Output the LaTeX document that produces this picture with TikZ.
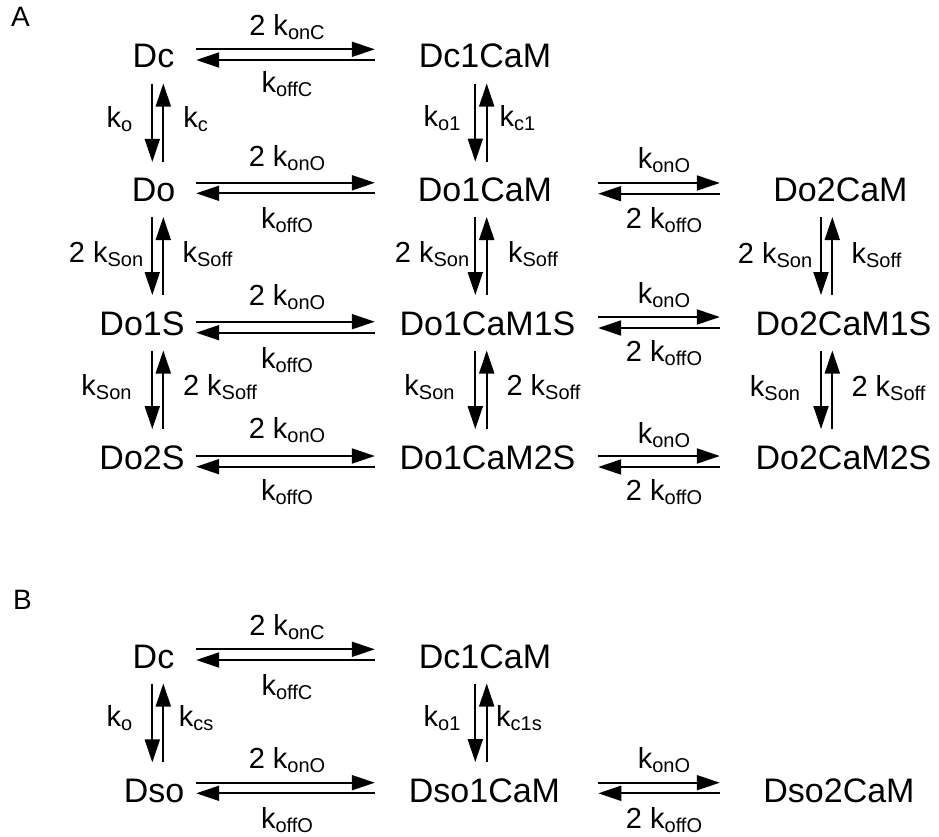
\documentclass[tikz,border=0pt]{standalone}
\usepackage{fontspec}
\setmainfont{Liberation Sans}
\usetikzlibrary{arrows.meta}
\newcommand\ksub[1]{\raisebox{-4pt}{\fontsize{20}{22}\selectfont #1}}
\newcommand\rk[2]{#1k\ksub{#2}}
\tikzset{
  species/.style={inner sep=0pt, anchor=base, font=\fontsize{34}{40}\selectfont},
  ratelbl/.style={inner sep=0pt, anchor=base, font=\fontsize{29}{34}\selectfont},
  panel/.style={inner sep=0pt, anchor=base west, font=\fontsize{28}{32}\selectfont},
  rx/.style={line width=1.9pt, -{Triangle[length=23pt,width=15pt]}}
}
% horizontal pair: A, B, y forward, y back, gap at A, gap at B
\newcommand\hrx[6]{%
  \draw[rx, shorten <=#5pt, shorten >=#6pt] (#1.east |- 0,#3) -- (#2.west |- 0,#3);
  \draw[rx, shorten <=#6pt, shorten >=#5pt] (#2.west |- 0,#4) -- (#1.east |- 0,#4);}
% vertical pair: upper, lower, x down, x up
\newcommand\vrx[4]{%
  \draw[rx, shorten <=15pt, shorten >=16pt] (#1.south -| #3,0) -- (#2.north -| #3,0);
  \draw[rx, shorten <=16pt, shorten >=15pt] (#2.north -| #4,0) -- (#1.south -| #4,0);}
\begin{document}
\begin{tikzpicture}[x=1pt,y=1pt]
\useasboundingbox (0,0) rectangle (939,-837);
% panel labels
\node[panel] (pA) at (11,-27) {A};
\node[panel] (pB) at (13,-609) {B};
% ---------- Panel A species ----------
\node[species] (dc)   at (153.5,-68)  {Dc};
\node[species] (dc1)  at (485,-68)    {Dc1CaM};
\node[species] (do)   at (153.5,-201.5) {Do};
\node[species] (do1)  at (485,-201.5) {Do1CaM};
\node[species] (do2)  at (840.5,-201.5) {Do2CaM};
\node[species] (do1s) at (142,-335)   {Do1S};
\node[species] (do1s1) at (487.5,-335) {Do1CaM1S};
\node[species] (do2s1) at (843.5,-335) {Do2CaM1S};
\node[species] (do2s) at (142,-469)   {Do2S};
\node[species] (do1s2) at (487.5,-469) {Do1CaM2S};
\node[species] (do2s2) at (843.5,-469) {Do2CaM2S};
% ---------- Panel B species ----------
\node[species] (bdc)   at (153.5,-668) {Dc};
\node[species] (bdc1)  at (485,-668)   {Dc1CaM};
\node[species] (bdso)  at (154,-802)   {Dso};
\node[species] (bdso1) at (484.5,-802) {Dso1CaM};
\node[species] (bdso2) at (839,-802)   {Dso2CaM};
% ---------- horizontal arrows ----------
\hrx{dc}{dc1}{-49.3}{-60}{21.7}{43.9}
\hrx{do}{do1}{-182.8}{-193.3}{20.8}{42.9}
\hrx{do1}{do2}{-183}{-193.7}{45.9}{53.4}
\hrx{do1s}{do1s1}{-321.7}{-332.7}{11.5}{24.6}
\hrx{do1s1}{do2s1}{-317}{-328}{22.6}{35.6}
\hrx{do2s}{do1s2}{-456}{-466.7}{11.5}{24.6}
\hrx{do1s2}{do2s2}{-456}{-467}{22.6}{35.6}
\hrx{bdc}{bdc1}{-649.3}{-660}{21.7}{43.9}
\hrx{bdso}{bdso1}{-782.7}{-793.3}{11.8}{33.9}
\hrx{bdso1}{bdso2}{-782.7}{-793.3}{38}{43.4}
% ---------- vertical arrows ----------
\vrx{dc}{do}{152.3}{163.3}
\vrx{do}{do1s}{152.3}{163.3}
\vrx{do1s}{do2s}{152.3}{163.3}
\vrx{dc1}{do1}{475.3}{486.7}
\vrx{do1}{do1s1}{475.3}{486.7}
\vrx{do1s1}{do1s2}{475.3}{486.7}
\vrx{do2}{do2s1}{821}{832.3}
\vrx{do2s1}{do2s2}{821}{832.3}
\vrx{bdc}{bdso}{152.3}{163.3}
\vrx{bdc1}{bdso1}{475.3}{486.7}
% ---------- horizontal rate labels ----------
\node[ratelbl] (l1) at (287,-36)    {\rk{2 }{onC}};
\node[ratelbl] (l2) at (287,-93)    {\rk{}{offC}};
\node[ratelbl] (l3) at (287,-166.7) {\rk{2 }{onO}};
\node[ratelbl] (l4) at (287,-228.3) {\rk{}{offO}};
\node[ratelbl] (l5) at (664,-168.3) {\rk{}{onO}};
\node[ratelbl] (l6) at (664,-228.3) {\rk{2 }{offO}};
\node[ratelbl] (l7) at (287,-305)   {\rk{2 }{onO}};
\node[ratelbl] (l8) at (287,-368.3) {\rk{}{offO}};
\node[ratelbl] (l9) at (664,-303.3) {\rk{}{onO}};
\node[ratelbl] (l10) at (664,-361.7) {\rk{2 }{offO}};
\node[ratelbl] (l11) at (287,-438.3) {\rk{2 }{onO}};
\node[ratelbl] (l12) at (287,-500)   {\rk{}{offO}};
\node[ratelbl] (l13) at (664,-443.3) {\rk{}{onO}};
\node[ratelbl] (l14) at (664,-500)   {\rk{2 }{offO}};
\node[ratelbl] (l15) at (287,-635)   {\rk{2 }{onC}};
\node[ratelbl] (l16) at (287,-695)   {\rk{}{offC}};
\node[ratelbl] (l17) at (287,-768.3) {\rk{2 }{onO}};
\node[ratelbl] (l18) at (287,-828.3) {\rk{}{offO}};
\node[ratelbl] (l19) at (664,-768.3) {\rk{}{onO}};
\node[ratelbl] (l20) at (664,-828.3) {\rk{2 }{offO}};
% ---------- vertical rate labels ----------
\node[ratelbl] (v1)  at (119.5,-128) {\rk{}{o}};
\node[ratelbl] (v2)  at (195.5,-128) {\rk{}{c}};
\node[ratelbl] (v3)  at (106,-262)   {\rk{2 }{Son}};
\node[ratelbl] (v4)  at (207.5,-262) {\rk{}{Soff}};
\node[ratelbl] (v5)  at (106.5,-395) {\rk{}{Son}};
\node[ratelbl] (v6)  at (220,-395)   {\rk{2 }{Soff}};
\node[ratelbl] (v7)  at (442,-127)   {\rk{}{o1}};
\node[ratelbl] (v8)  at (517.5,-127) {\rk{}{c1}};
\node[ratelbl] (v9)  at (432,-262)   {\rk{2 }{Son}};
\node[ratelbl] (v10) at (533,-262)   {\rk{}{Soff}};
\node[ratelbl] (v11) at (429.5,-395) {\rk{}{Son}};
\node[ratelbl] (v12) at (543.5,-395) {\rk{2 }{Soff}};
\node[ratelbl] (v13) at (775,-263.3) {\rk{2 }{Son}};
\node[ratelbl] (v14) at (876.5,-263.3) {\rk{}{Soff}};
\node[ratelbl] (v15) at (775,-396.7) {\rk{}{Son}};
\node[ratelbl] (v16) at (888.5,-396.7) {\rk{2 }{Soff}};
\node[ratelbl] (v17) at (119.5,-726.7) {\rk{}{o}};
\node[ratelbl] (v18) at (196,-726.7)   {\rk{}{cs}};
\node[ratelbl] (v19) at (442,-726.7)   {\rk{}{o1}};
\node[ratelbl] (v20) at (519,-726.7)   {\rk{}{c1s}};
\end{tikzpicture}
\end{document}
